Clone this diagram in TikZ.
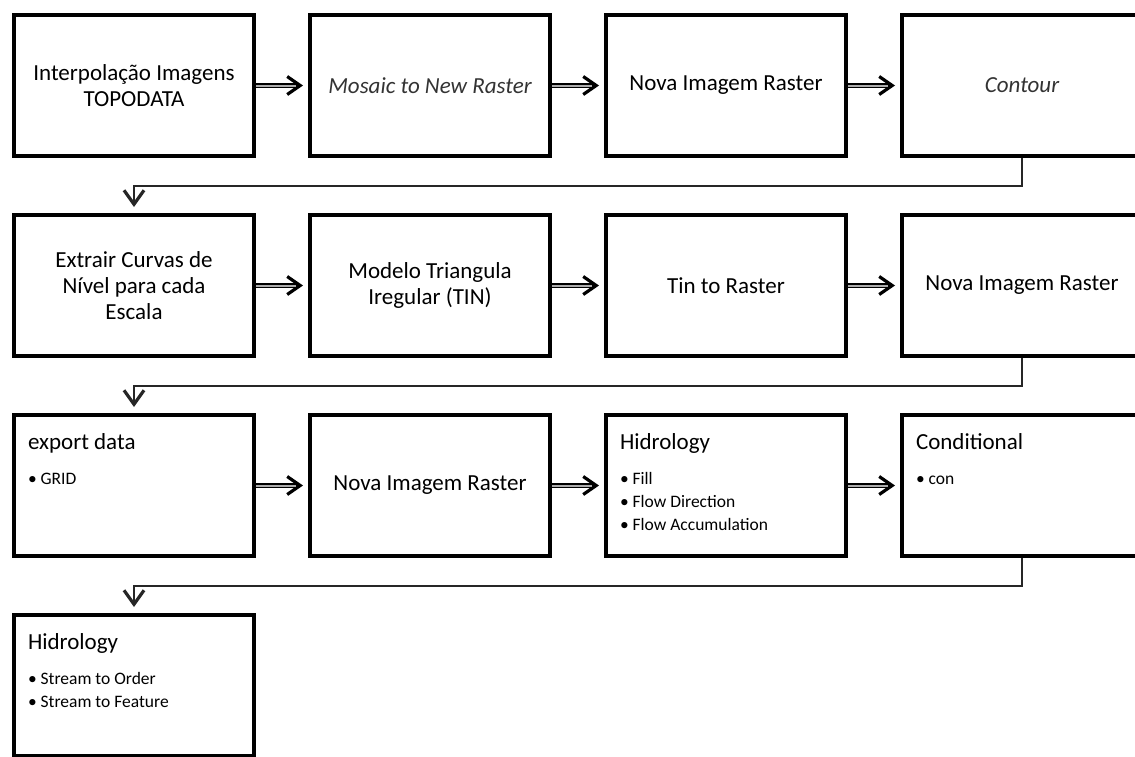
\documentclass[tikz,border=0pt]{standalone}
\usepackage{fontspec}
\setmainfont{Carlito}
\usetikzlibrary{positioning, arrows.meta}

% caixa com titulo e lista de itens
\newcommand{\lista}[2]{\parbox[t][127pt][t]{212pt}{\lineskiplimit=-100pt
  \vspace*{8.8pt}{\fontsize{23}{26}\selectfont\strut #1}\par
  \vspace{12pt}\fontsize{17.5}{23}\selectfont #2}}

\tikzset{
  caixa/.style={draw=black, line width=4pt, minimum width=240pt, minimum height=141pt,
    inner sep=7pt, align=center, font=\fontsize{23}{26}\selectfont},
  caixalista/.style={caixa, inner xsep=14pt, align=left},
  seta/.style={draw=black, line width=5pt,
    -{Straight Barb[length=13pt,width=18pt,line width=3.2pt]}, shorten >=5pt,
    postaction={draw=gray!65, line width=2pt, -, shorten <=0pt, shorten >=12pt}},
  desce/.style={draw=black!85, line width=2pt,
    -{Straight Barb[length=14pt,width=20pt,line width=3.2pt]}, shorten >=6pt},
}

\begin{document}
\begin{tikzpicture}[x=1pt, y=-1pt, node distance=55pt and 52pt]
  \useasboundingbox (0,0) rectangle (1135,756);

  % linha 1
  \node[caixa] (a1) at (134,85.5) {Interpolação Imagens\\TOPODATA};
  \node[caixa, right=of a1, text=black!80] (a2) {\itshape Mosaic to New Raster};
  \node[caixa, right=of a2] (a3) {Nova Imagem Raster};
  \node[caixa, right=of a3, text=black!80] (a4) {\itshape Contour};

  % linha 2
  \node[caixa, below=of a1] (b1) {Extrair Curvas de\\Nível para cada\\Escala};
  \node[caixa, right=of b1] (b2) {Modelo Triangula\\Iregular (TIN)};
  \node[caixa, right=of b2] (b3) {Tin to Raster};
  \node[caixa, right=of b3] (b4) {Nova Imagem Raster};

  % linha 3
  \node[caixalista, below=of b1] (c1) {\lista{export data}{• GRID}};
  \node[caixa, right=of c1] (c2) {Nova Imagem Raster};
  \node[caixalista, right=of c2] (c3) {\lista{Hidrology}{• Fill\\• Flow Direction\\• Flow Accumulation}};
  \node[caixalista, right=of c3] (c4) {\lista{Conditional}{• con}};

  % linha 4
  \node[caixalista, below=of c1] (d1) {\lista{Hidrology}{• Stream to Order\\• Stream to Feature}};

  % setas horizontais
  \foreach \r in {a,b,c}{
    \draw[seta] (\r1) -- (\r2);
    \draw[seta] (\r2) -- (\r3);
    \draw[seta] (\r3) -- (\r4);
  }

  % setas de uma linha para a seguinte
  \draw[desce] (a4.south) -- ++(0,28) -| (b1.north);
  \draw[desce] (b4.south) -- ++(0,28) -| (c1.north);
  \draw[desce] (c4.south) -- ++(0,28) -| (d1.north);
\end{tikzpicture}
\end{document}
